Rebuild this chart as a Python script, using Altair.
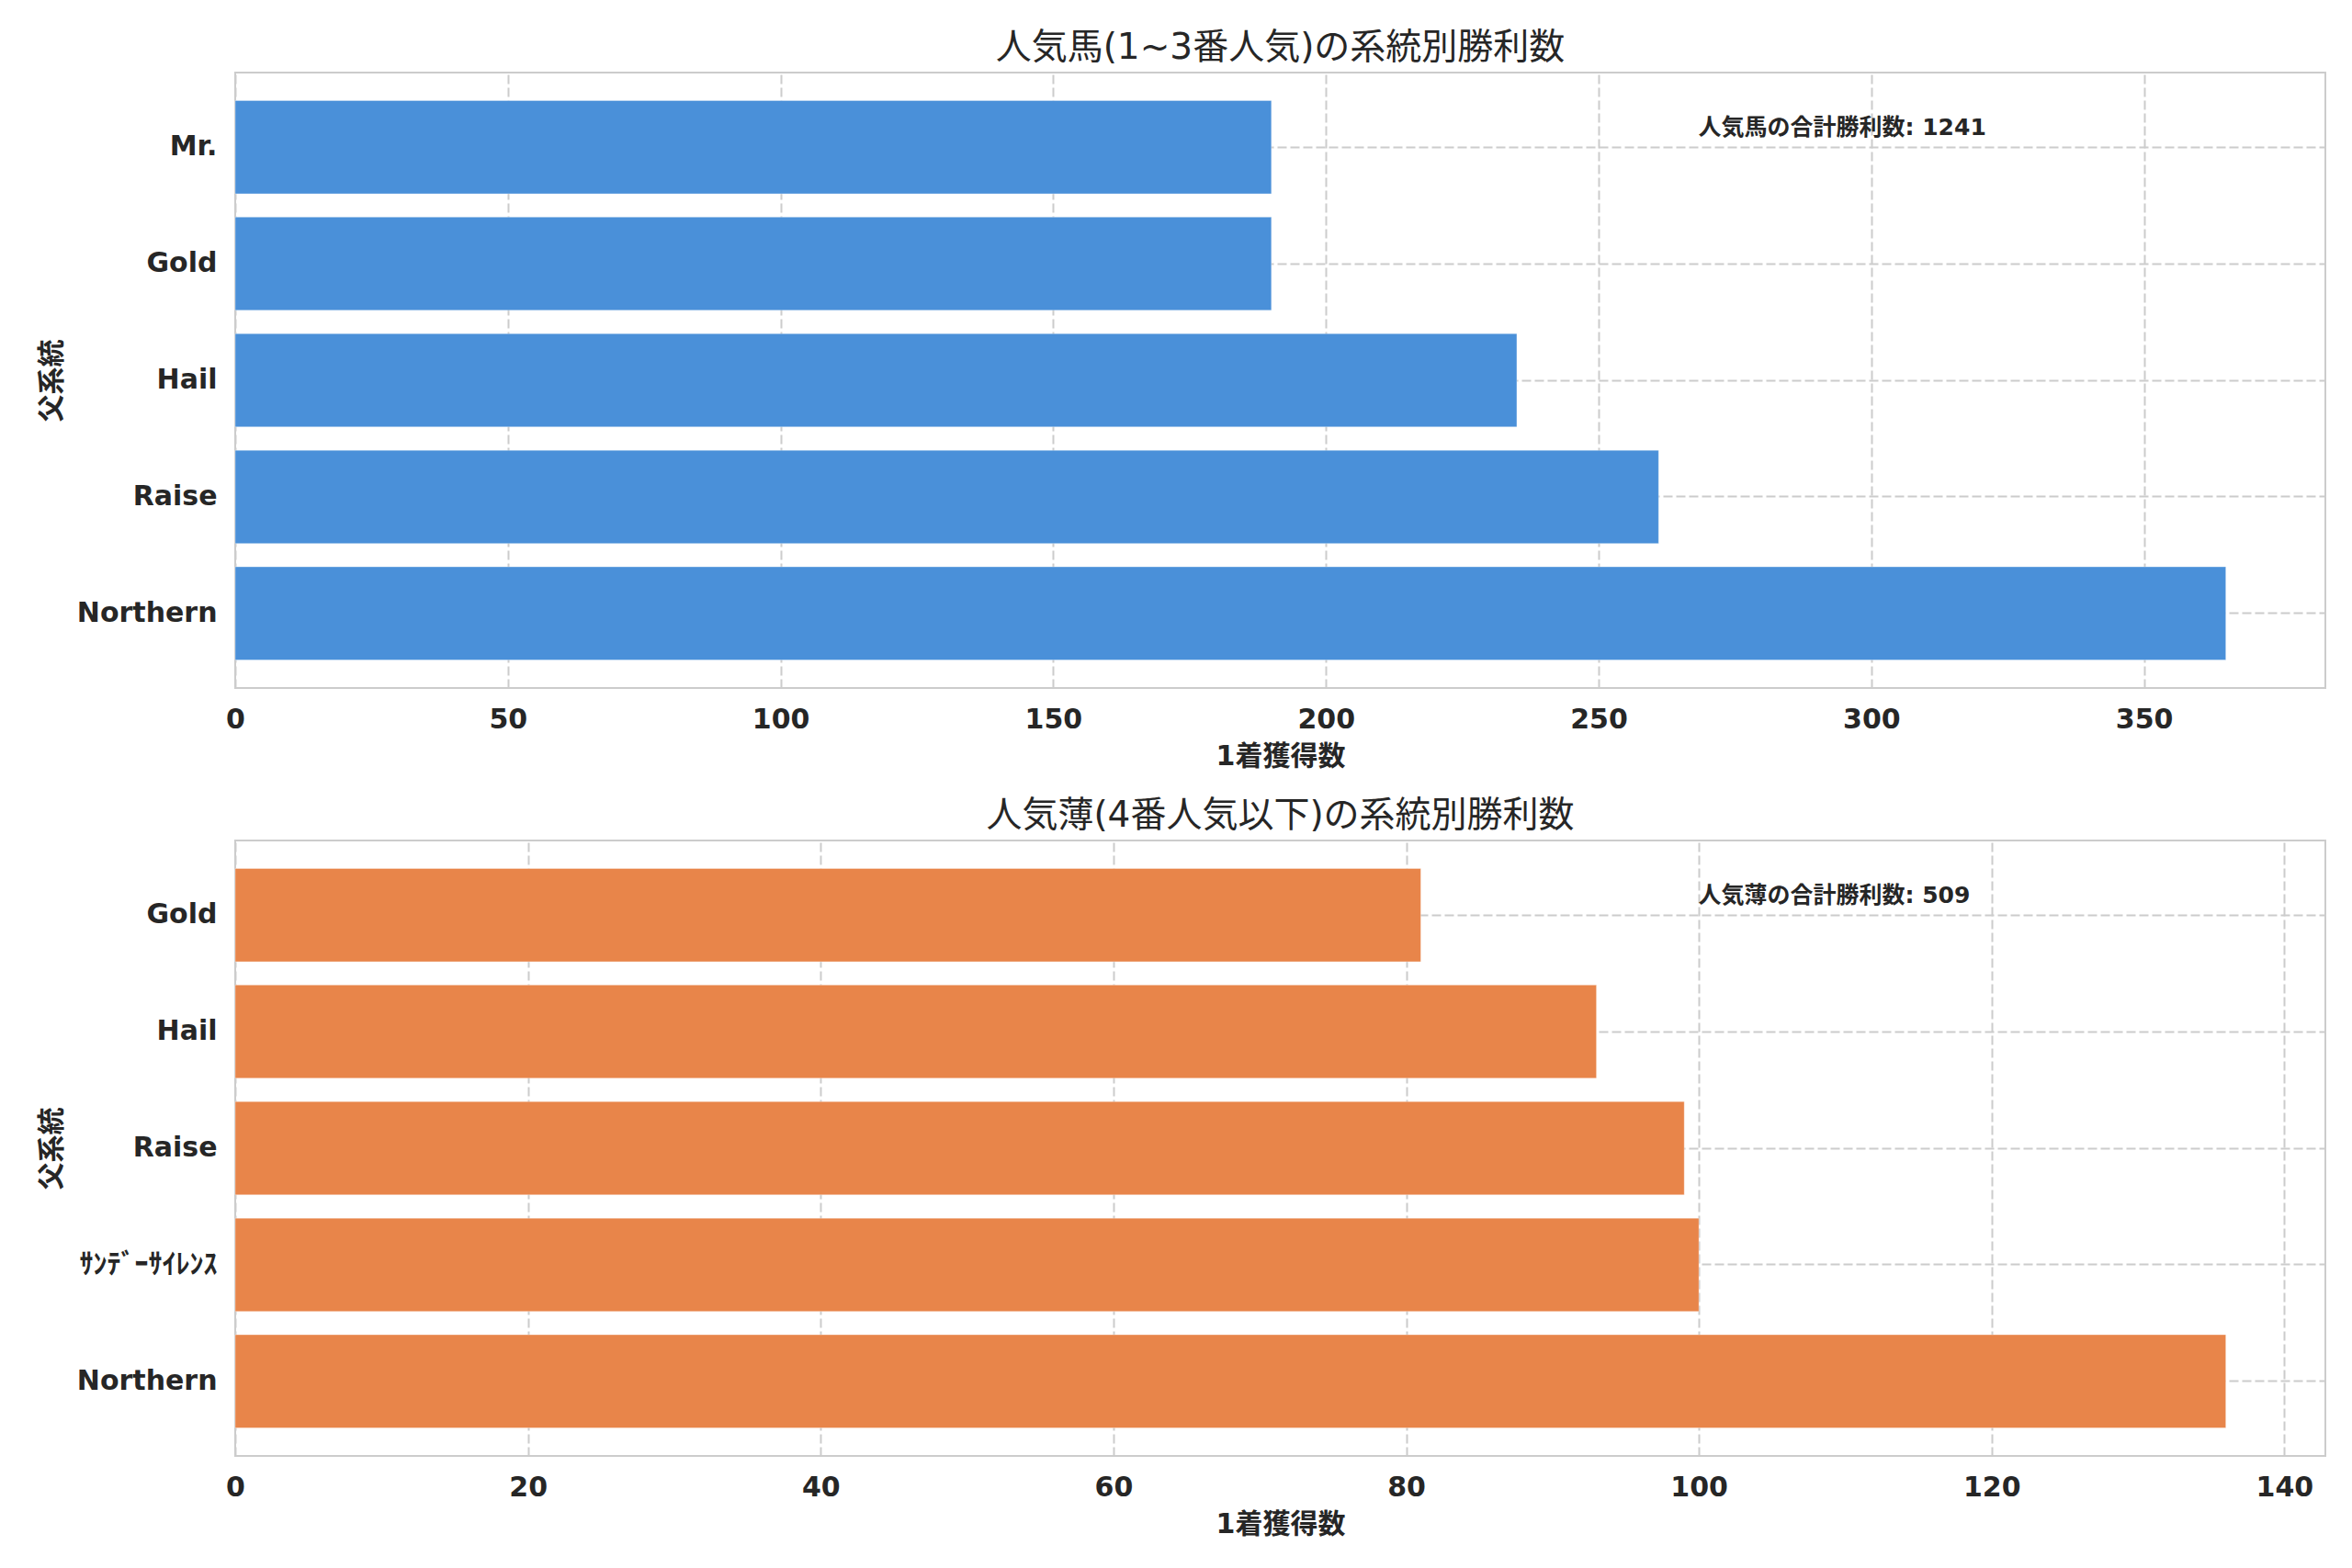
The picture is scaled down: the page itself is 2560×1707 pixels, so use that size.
import altair as alt
import pandas as pd

# ---- data ----
top_sires = ["Mr.", "Gold", "Hail", "Raise", "Northern"]
top_wins = [190, 190, 235, 261, 365]
top_ticks = [0, 50, 100, 150, 200, 250, 300, 350]

bottom_sires = ["Gold", "Hail", "Raise", "ｻﾝﾃﾞｰｻｲﾚﾝｽ", "Northern"]
bottom_wins = [81, 93, 99, 100, 136]
bottom_ticks = [0, 20, 40, 60, 80, 100, 120, 140]

top_title = "人気馬(1~3番人気)の系統別勝利数"
bottom_title = "人気薄(4番人気以下)の系統別勝利数"
top_note = "人気馬の合計勝利数"
bottom_note = "人気薄の合計勝利数"
x_title = "1着獲得数"
y_title = "父系統"

BLUE = "#4a90d9"
ORANGE = "#e8854a"
TEXT = "#262626"
FONT = "DejaVu Sans, Noto Sans CJK JP, sans-serif"
W, H = 2275, 670


def panel(sires, wins, ticks, color, title, note_label):
    df = pd.DataFrame({"sire": sires, "wins": wins})
    xmax = max(wins) * 1.05
    bars = alt.Chart(df).mark_bar(
        color=color, stroke="white", strokeWidth=1, strokeOpacity=0.35
    ).encode(
        x=alt.X(
            "wins:Q",
            scale=alt.Scale(domain=[0, xmax], nice=False, zero=True),
            axis=alt.Axis(title=x_title, values=ticks, labelFlush=False),
        ),
        y=alt.Y(
            "sire:N",
            sort=sires,
            scale=alt.Scale(paddingInner=0.2, paddingOuter=0.24),
            axis=alt.Axis(title=y_title, bandPosition=0.5, labelLimit=0),
        ),
        tooltip=["sire", "wins"],
    )
    note_df = pd.DataFrame({"t": [f"{note_label}: {sum(wins)}"]})
    note = alt.Chart(note_df).mark_text(
        align="left", baseline="middle", fontSize=25, fontWeight="bold",
        color=TEXT, font=FONT,
    ).encode(x=alt.value(W * 0.7), y=alt.value(60), text="t:N")
    return alt.layer(bars, note).properties(
        width=W,
        height=H,
        title=alt.TitleParams(
            title, fontSize=39, fontWeight="normal", color=TEXT, font=FONT,
            anchor="middle", offset=7,
        ),
    )


top = panel(top_sires, top_wins, top_ticks, BLUE, top_title, top_note)
bottom = panel(bottom_sires, bottom_wins, bottom_ticks, ORANGE, bottom_title, bottom_note)

chart = alt.vconcat(top, bottom, spacing=29).configure(
    background="white", padding={"left": 32, "top": 24, "right": 5, "bottom": 5}
).configure_view(
    stroke="#cccccc", strokeWidth=2
).configure_axis(
    domain=False,
    ticks=False,
    grid=True,
    gridColor="#cccccc",
    gridDash=[10, 4],
    gridWidth=2,
    labelFont=FONT,
    labelFontSize=30,
    labelFontWeight="bold",
    labelColor=TEXT,
    titleFont=FONT,
    titleFontSize=30,
    titleFontWeight="bold",
    titleColor=TEXT,
).configure_axisX(
    labelPadding=19, titlePadding=10
).configure_axisY(
    labelPadding=20, titlePadding=12
)

chart.save("out.html", embed_options={"renderer": "svg", "actions": False})
